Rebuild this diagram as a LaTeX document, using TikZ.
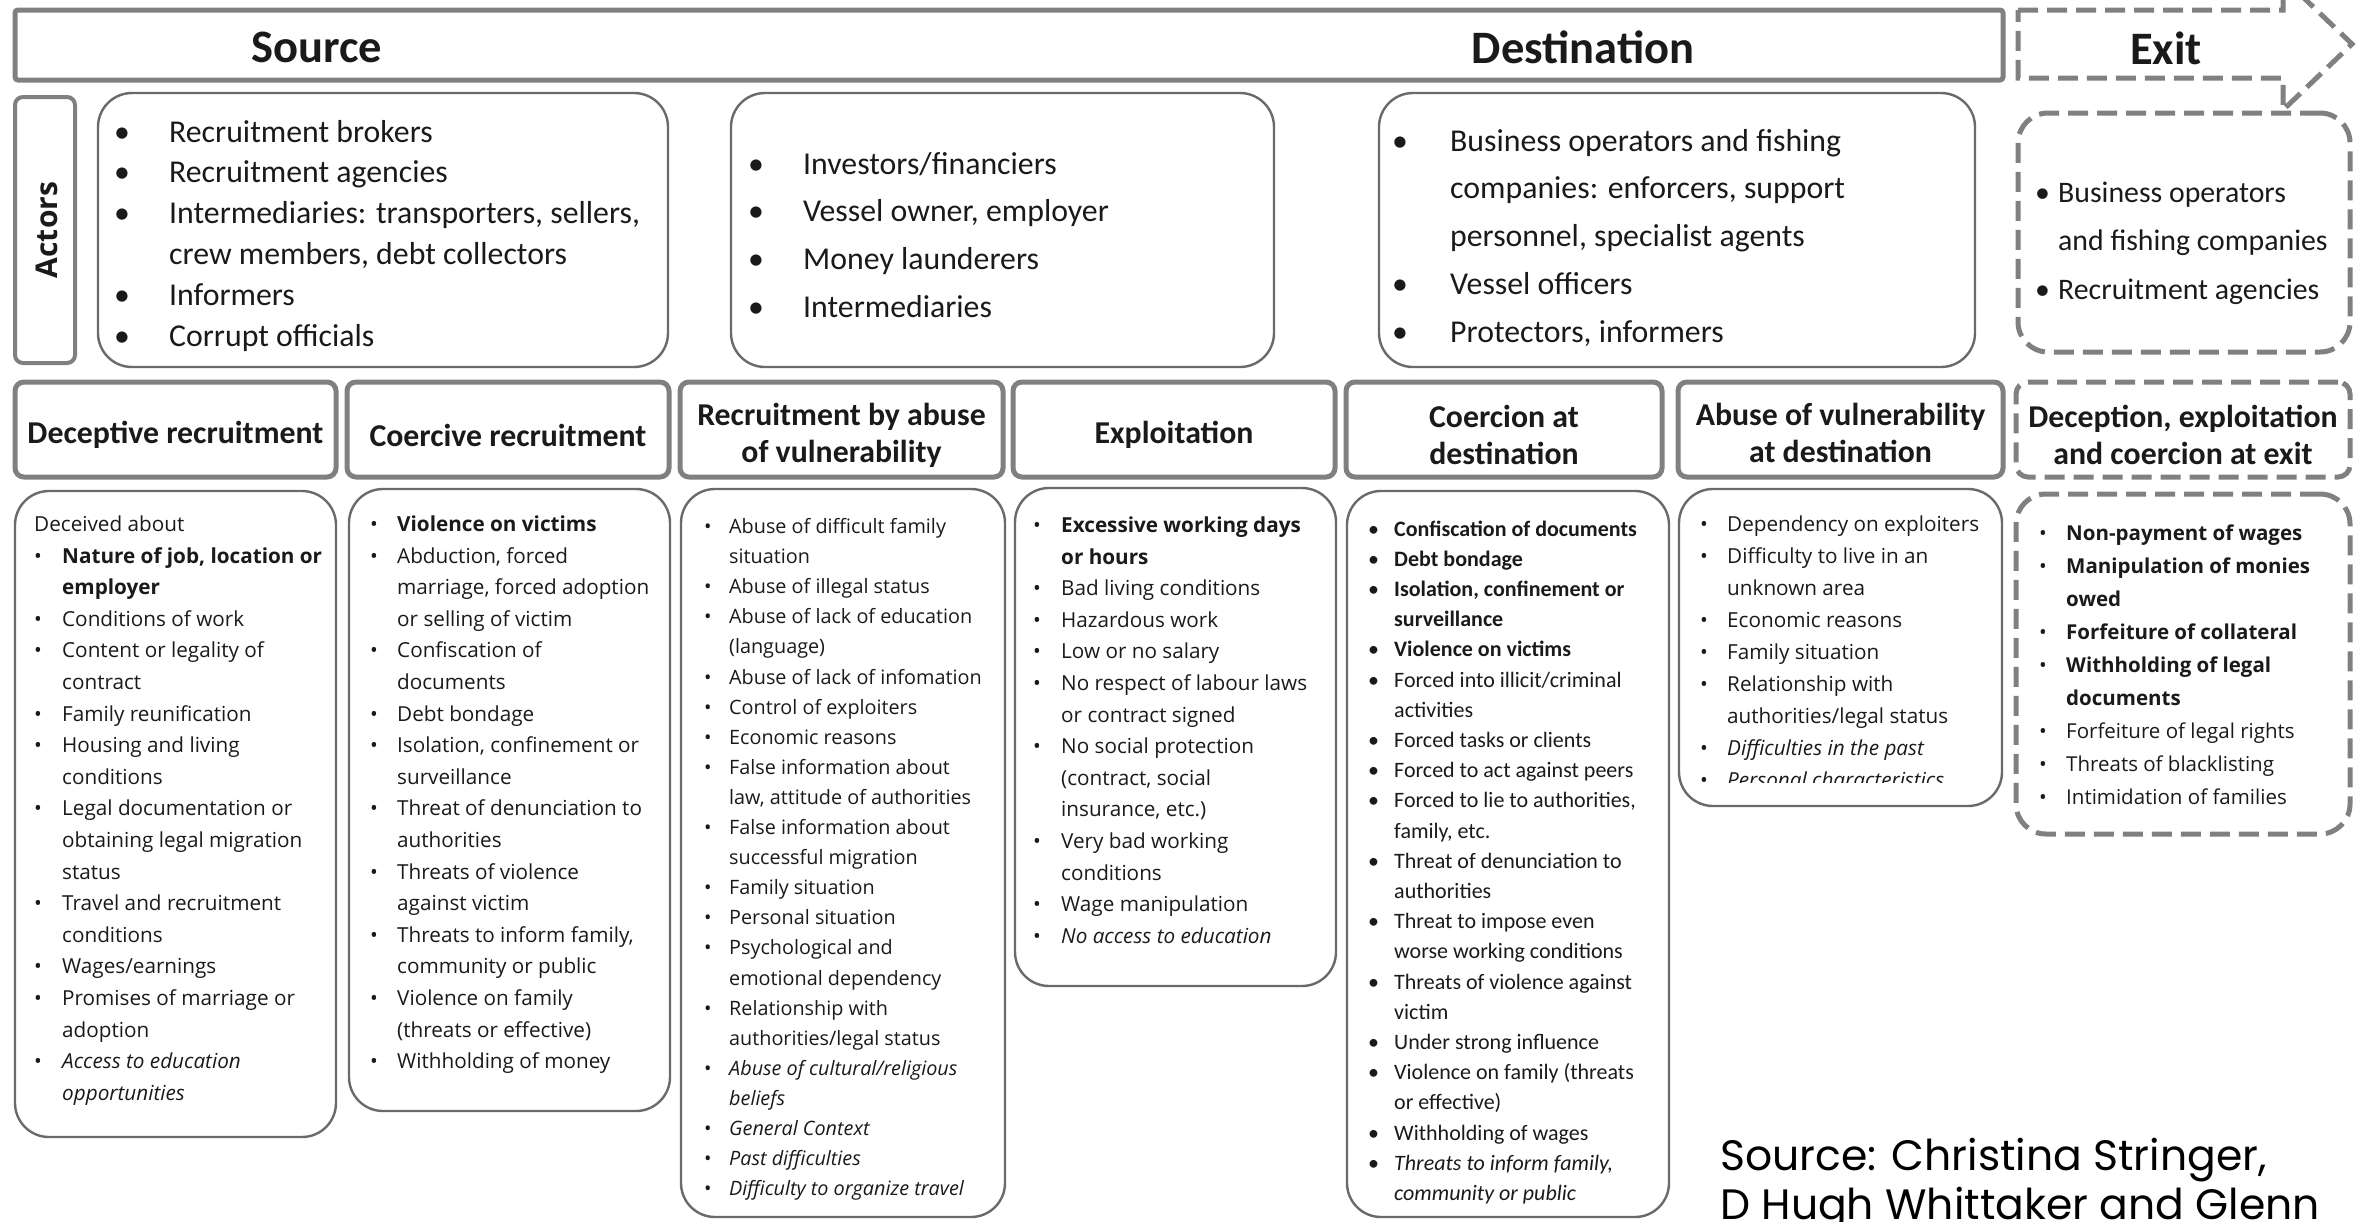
\documentclass[tikz,border=0pt]{standalone}
\usepackage{fontspec}
\setmainfont{Carlito}
\newfontfamily\osans{Open Sans}
\newfontfamily\popp{Poppins}
\definecolor{boxgray}{HTML}{808080}
\definecolor{linegray}{HTML}{6A6A6A}
\definecolor{ink}{HTML}{1A1A1A}
% bulleted and continuation lines inside a text block
\newlength\bulw
\newcommand\itm[1]{\par\noindent\makebox[\bulw][l]{\textbullet}{#1}}
\newcommand\cnt[1]{\par\noindent\hspace*{\bulw}{#1}}
\newcommand\pln[1]{\par\noindent{#1}}
\newcommand\textlines[2]{\vtop{\hsize=700pt\parindent=0pt\parskip=0pt\setlength\bulw{#1}#2}}
\begin{document}
\begin{tikzpicture}[x=1pt,y=-1pt,
  thickbox/.style={draw=boxgray, line width=5pt, rounded corners=9pt, inner sep=0pt},
  thinbox/.style={draw=linegray, line width=2.4pt, rounded corners=34pt, inner sep=0pt},
  dashbox/.style={draw=boxgray, line width=5pt, dash pattern=on 20pt off 9pt, inner sep=0pt},
  phase/.style={font=\bfseries\fontsize{46.5}{50}\selectfont, text=ink, inner sep=0pt},
  hdr/.style={thickbox, minimum height=95pt},
  hdrtext/.style={font=\bfseries\fontsize{31.8}{37}\selectfont, align=center, text=ink, inner sep=0pt},
  lst/.style={anchor=base west, inner sep=0pt, text=ink},
  actorfont/.style={font=\fontsize{31.8}{40.8}\selectfont},
  bodyfont/.style={font=\osans\fontsize{20.7}{31.6}\selectfont}
]
\useasboundingbox (0,0) rectangle (2356,1221);
\fill[white] (0,0) rectangle (2356,1221);
\clip (0,0) rectangle (2356,1221);

% ---------- phase bar ----------
\node[thickbox, rounded corners=3pt, minimum width=1988pt, minimum height=70pt] (phasebar) at (1009,45) {};
\node[phase] (src) at (317,47) {Source};
\node[phase] (dst) at (1583,47) {Destination};
\draw[dashbox] (2018,10) -- (2283,10) -- (2283,-22) -- (2352,44) -- (2283,110) -- (2283,78) -- (2018,78) -- cycle;
\node[phase] (ext) at (2166,48) {Exit};

% ---------- actors row ----------
\node[thickbox, line width=4pt, rounded corners=8pt, minimum width=60pt, minimum height=266pt] (actorsbox) at (45,230) {};
\node[rotate=90, font=\osans\bfseries\fontsize{30}{30}\selectfont, text=ink, inner sep=0pt] (actors) at (47,230) {Actors};

\node[thinbox, minimum width=570pt, minimum height=274pt] (asrc) at (383,230) {};
\node[lst, actorfont] (asrctxt) at (114,142) {\textlines{55pt}{%
  \itm{Recruitment brokers}
  \itm{Recruitment agencies}
  \itm{Intermediaries: transporters, sellers,}
  \cnt{crew members, debt collectors}
  \itm{Informers}
  \itm{Corrupt officials}}};

\node[thinbox, minimum width=543pt, minimum height=274pt] (amid) at (1002.5,230) {};
\node[lst, font=\fontsize{31.8}{47.7}\selectfont] (amidtxt) at (748,174) {\textlines{55pt}{%
  \itm{Investors/financiers}
  \itm{Vessel owner, employer}
  \itm{Money launderers}
  \itm{Intermediaries}}};

\node[thinbox, minimum width=596pt, minimum height=274pt] (adst) at (1677,230) {};
\node[lst, font=\fontsize{31.8}{47.75}\selectfont] (adsttxt) at (1392,151) {\textlines{58pt}{%
  \itm{Business operators and fishing}
  \cnt{companies: enforcers, support}
  \cnt{personnel, specialist agents}
  \itm{Vessel officers}
  \itm{Protectors, informers}}};

\node[dashbox, rounded corners=30pt, minimum width=332pt, minimum height=239pt] (aexit) at (2184,232.5) {};
\node[lst, font=\fontsize{29.8}{48.5}\selectfont] (aexittxt) at (2035,202) {\textlines{23pt}{%
  \itm{Business operators}
  \cnt{and fishing companies}
  \itm{Recruitment agencies}}};

% ---------- means headers ----------
\node[hdr, minimum width=321pt] (h1) at (175.5,429.5) {};
\node[hdr, minimum width=322pt] (h2) at (508,429.5) {};
\node[hdr, minimum width=323pt] (h3) at (841.5,429.5) {};
\node[hdr, minimum width=322pt] (h4) at (1174,429.5) {};
\node[hdr, minimum width=316pt] (h5) at (1504,429.5) {};
\node[hdr, minimum width=325pt] (h6) at (1840.5,429.5) {};
\node[hdr, dashbox, rounded corners=12pt, minimum width=334pt] (h7) at (2183,429.5) {};
\node[hdrtext] (h1t) at (175.5,435) {Deceptive recruitment};
\node[hdrtext] (h2t) at (508,435) {Coercive recruitment};
\node[hdrtext] (h3t) at (841.5,435) {Recruitment by abuse\\of vulnerability};
\node[hdrtext] (h4t) at (1174,435) {Exploitation};
\node[hdrtext] (h5t) at (1504,435) {Coercion at\\destination};
\node[hdrtext] (h6t) at (1840.5,433) {Abuse of vulnerability\\at destination};
\node[hdrtext] (h7t) at (2183,435) {Deception, exploitation\\and coercion at exit};

% ---------- detail boxes ----------
\node[thinbox, minimum width=321pt, minimum height=646pt] (b1) at (175.5,814) {};
\node[lst, bodyfont] (b1txt) at (34,531.5) {\textlines{28pt}{%
  \pln{Deceived about}
  \itm{\bfseries Nature of job, location or}
  \cnt{\bfseries employer}
  \itm{Conditions of work}
  \itm{Content or legality of}
  \cnt{contract}
  \itm{Family reunification}
  \itm{Housing and living}
  \cnt{conditions}
  \itm{Legal documentation or}
  \cnt{obtaining legal migration}
  \cnt{status}
  \itm{Travel and recruitment}
  \cnt{conditions}
  \itm{Wages/earnings}
  \itm{Promises of marriage or}
  \cnt{adoption}
  \itm{\itshape Access to education}
  \cnt{\itshape opportunities}}};

\node[thinbox, minimum width=321pt, minimum height=622pt] (b2) at (509.5,800) {};
\node[lst, bodyfont] (b2txt) at (370,531.5) {\textlines{27pt}{%
  \itm{\bfseries Violence on victims}
  \itm{Abduction, forced}
  \cnt{marriage, forced adoption}
  \cnt{or selling of victim}
  \itm{Confiscation of}
  \cnt{documents}
  \itm{Debt bondage}
  \itm{Isolation, confinement or}
  \cnt{surveillance}
  \itm{Threat of denunciation to}
  \cnt{authorities}
  \itm{Threats of violence}
  \cnt{against victim}
  \itm{Threats to inform family,}
  \cnt{community or public}
  \itm{Violence on family}
  \cnt{(threats or effective)}
  \itm{Withholding of money}}};

\node[thinbox, minimum width=324pt, minimum height=728pt] (b3) at (843,853) {};
\node[lst, font=\osans\fontsize{19.8}{30.1}\selectfont] (b3txt) at (704,533.5) {\textlines{25pt}{%
  \itm{Abuse of difficult family}
  \cnt{situation}
  \itm{Abuse of illegal status}
  \itm{Abuse of lack of education}
  \cnt{(language)}
  \itm{Abuse of lack of infomation}
  \itm{Control of exploiters}
  \itm{Economic reasons}
  \itm{False information about}
  \cnt{law, attitude of authorities}
  \itm{False information about}
  \cnt{successful migration}
  \itm{Family situation}
  \itm{Personal situation}
  \itm{Psychological and}
  \cnt{emotional dependency}
  \itm{Relationship with}
  \cnt{authorities/legal status}
  \itm{\itshape Abuse of cultural/religious}
  \cnt{\itshape beliefs}
  \itm{\itshape General Context}
  \itm{\itshape Past difficulties}
  \itm{\itshape Difficulty to organize travel}}};

\node[thinbox, minimum width=321pt, minimum height=498pt] (b4) at (1175.5,737) {};
\node[lst, bodyfont] (b4txt) at (1033,532.5) {\textlines{28pt}{%
  \itm{\bfseries Excessive working days}
  \cnt{\bfseries or hours}
  \itm{Bad living conditions}
  \itm{Hazardous work}
  \itm{Low or no salary}
  \itm{No respect of labour laws}
  \cnt{or contract signed}
  \itm{No social protection}
  \cnt{(contract, social}
  \cnt{insurance, etc.)}
  \itm{Very bad working}
  \cnt{conditions}
  \itm{Wage manipulation}
  \itm{\itshape No access to education}}};

\node[thinbox, minimum width=322pt, minimum height=726pt] (b5) at (1508,854) {};
\node[lst, font=\fontsize{22}{30.2}\selectfont] (b5txt) at (1368,536) {\textlines{26pt}{%
  \itm{\bfseries Confiscation of documents}
  \itm{\bfseries Debt bondage}
  \itm{\bfseries Isolation, confinement or}
  \cnt{\bfseries surveillance}
  \itm{\bfseries Violence on victims}
  \itm{Forced into illicit/criminal}
  \cnt{activities}
  \itm{Forced tasks or clients}
  \itm{Forced to act against peers}
  \itm{Forced to lie to authorities,}
  \cnt{family, etc.}
  \itm{Threat of denunciation to}
  \cnt{authorities}
  \itm{Threat to impose even}
  \cnt{worse working conditions}
  \itm{Threats of violence against}
  \cnt{victim}
  \itm{Under strong influence}
  \itm{Violence on family (threats}
  \cnt{or effective)}
  \itm{Withholding of wages}
  \itm{\itshape Threats to inform family,}
  \cnt{\itshape community or public}}};

\node[thinbox, minimum width=323pt, minimum height=317pt] (b6) at (1840.5,647.5) {};
\begin{scope}
  \clip (1679,489) rectangle (2002,782);
  \node[lst, font=\osans\fontsize{20.7}{32}\selectfont] (b6txt) at (1700,531.5) {\textlines{27pt}{%
    \itm{Dependency on exploiters}
    \itm{Difficulty to live in an}
    \cnt{unknown area}
    \itm{Economic reasons}
    \itm{Family situation}
    \itm{Relationship with}
    \cnt{authorities/legal status}
    \itm{\itshape Difficulties in the past}
    \itm{\itshape Personal characteristics}}};
\end{scope}

\node[dashbox, rounded corners=30pt, minimum width=334pt, minimum height=340pt] (b7) at (2183,664) {};
\node[lst, font=\osans\fontsize{20.5}{33}\selectfont] (b7txt) at (2039,540.5) {\textlines{27pt}{%
  \itm{\bfseries Non-payment of wages}
  \itm{\bfseries Manipulation of monies}
  \cnt{\bfseries owed}
  \itm{\bfseries Forfeiture of collateral}
  \itm{\bfseries Withholding of legal}
  \cnt{\bfseries documents}
  \itm{Forfeiture of legal rights}
  \itm{Threats of blacklisting}
  \itm{Intimidation of families}}};

% ---------- credit ----------
\node[lst, font=\popp\fontsize{42.5}{49}\selectfont, text=black] (credit) at (1720,1170) {\textlines{0pt}{%
  \pln{Source: Christina Stringer,}
  \pln{D Hugh Whittaker and Glenn}}};
\end{tikzpicture}
\end{document}
